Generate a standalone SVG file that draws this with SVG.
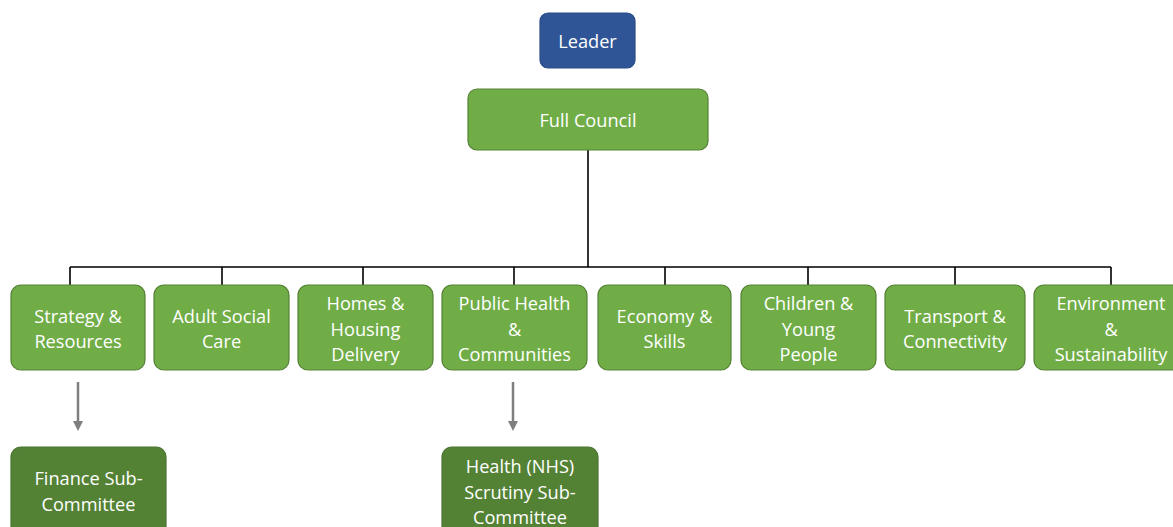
<svg xmlns="http://www.w3.org/2000/svg" width="1173" height="527" viewBox="0 0 1173 527">
<style>
text{font-family:"Open Sans","Liberation Sans",sans-serif;font-size:18.2px;fill:#fff;text-anchor:middle}
.g{fill:#70AD47;stroke:#548235;stroke-width:1.2}
.d{fill:#548235;stroke:#4a7530;stroke-width:1.2}
.b{fill:#2F5597;stroke:#2a4c87;stroke-width:1.2}
.c{fill:none;stroke:#000;stroke-width:1.6}
.a{fill:none;stroke:#7f7f7f;stroke-width:2.5}
</style>
<defs>
<marker id="ah" markerWidth="4" markerHeight="4" refX="2" refY="2" orient="auto" markerUnits="strokeWidth">
<path d="M0,0L4,2L0,4z" fill="#7f7f7f"/>
</marker>
</defs>
<g id="connectors">
<path class="c" d="M588,150V267M70,267H1111M70,267V285M222,267V285M363,267V285M514,267V285M665,267V285M808,267V285M955,267V285M1111,267V285"/>
<path class="a" d="M78,382V426" marker-end="url(#ah)"/>
<path class="a" d="M513,382V426" marker-end="url(#ah)"/>
</g>
<g id="leader"><rect class="b" x="540" y="13" width="95" height="55" rx="8"/><text x="587.5" y="47.5">Leader</text></g>
<g id="full-council"><rect class="g" x="468" y="89" width="240" height="61" rx="9"/><text x="588" y="127">Full Council</text></g>
<g id="strategy"><rect class="g" x="11" y="285" width="134" height="85" rx="10"/><text x="78" y="322.5">Strategy &amp;</text><text x="78" y="347.5">Resources</text></g>
<g id="adult"><rect class="g" x="154" y="285" width="135" height="85" rx="10"/><text x="221.5" y="322.5">Adult Social</text><text x="221.5" y="347.5">Care</text></g>
<g id="homes"><rect class="g" x="298" y="285" width="135" height="85" rx="10"/><text x="365.5" y="310">Homes &amp;</text><text x="365.5" y="335.5">Housing</text><text x="365.5" y="361">Delivery</text></g>
<g id="public-health"><rect class="g" x="442" y="285" width="145" height="85" rx="10"/><text x="514.5" y="310">Public Health</text><text x="514.5" y="335.5">&amp;</text><text x="514.5" y="361">Communities</text></g>
<g id="economy"><rect class="g" x="598" y="285" width="133" height="85" rx="10"/><text x="664.5" y="322.5">Economy &amp;</text><text x="664.5" y="347.5">Skills</text></g>
<g id="children"><rect class="g" x="741" y="285" width="135" height="85" rx="10"/><text x="808.5" y="310">Children &amp;</text><text x="808.5" y="335.5">Young</text><text x="808.5" y="361">People</text></g>
<g id="transport"><rect class="g" x="885" y="285" width="140" height="85" rx="10"/><text x="955" y="322.5">Transport &amp;</text><text x="955" y="347.5">Connectivity</text></g>
<g id="environment"><rect class="g" x="1034" y="285" width="150" height="85" rx="10"/><text x="1111" y="310">Environment</text><text x="1111" y="335.5">&amp;</text><text x="1111" y="361">Sustainability</text></g>
<g id="finance"><rect class="d" x="11" y="447" width="155" height="95" rx="10"/><text x="88.5" y="484.5">Finance Sub-</text><text x="88.5" y="510.5">Committee</text></g>
<g id="health-nhs"><rect class="d" x="442" y="447" width="156" height="95" rx="10"/><text x="520" y="472.5">Health (NHS)</text><text x="520" y="498.5">Scrutiny Sub-</text><text x="520" y="523.5">Committee</text></g>
</svg>
